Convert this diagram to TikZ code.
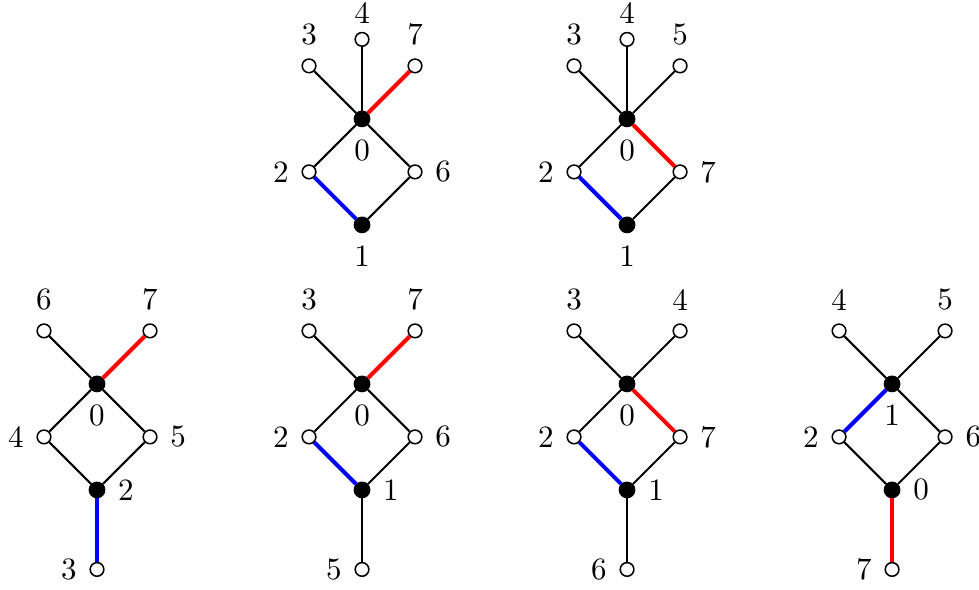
\documentclass[tikz,border=0pt]{standalone}
\usepackage{tikz}

\begin{document}
\begin{tikzpicture}[
  x=0.6cm, y=0.6cm,
  leaf/.style={circle, draw, fill=white, line width=0.5pt, minimum size=4.4pt, inner sep=0pt},
  hub/.style={circle, draw, fill=black, line width=0.5pt, minimum size=4.9pt, inner sep=0pt},
  edg/.style={line width=0.65pt},
  redg/.style={line width=1.3pt, red},
  bedg/.style={line width=1.3pt, blue},
  label distance=0.6pt
]
  \useasboundingbox (0,0) rectangle (18.47,11.13);
  \def\colsep{5}

  % ── Top row, left ──
  \begin{scope}[shift={(6.83,8.887)}]
    \node[hub, label=below:0] (a0) at (0,0) {};
    \node[hub, label=below:1] (a1) at (0,-2) {};
    \node[leaf, label=left:2] (a2) at (-1,-1) {};
    \node[leaf, label=right:6] (a6) at (1,-1) {};
    \node[leaf, label=above:3] (a3) at (-1,1) {};
    \node[leaf, label={[label distance=-0.8pt]above:4}] (a4) at (0,1.5) {};
    \node[leaf, label=above:7] (a7) at (1,1) {};
    \draw[edg] (a0) -- (a3);
    \draw[edg] (a0) -- (a4);
    \draw[redg] (a0) -- (a7);
    \draw[edg] (a0) -- (a2);
    \draw[edg] (a0) -- (a6);
    \draw[bedg] (a2) -- (a1);
    \draw[edg] (a6) -- (a1);
  \end{scope}

  % ── Top row, right ──
  \begin{scope}[shift={(6.83+\colsep,8.887)}]
    \node[hub, label=below:0] (b0) at (0,0) {};
    \node[hub, label=below:1] (b1) at (0,-2) {};
    \node[leaf, label=left:2] (b2) at (-1,-1) {};
    \node[leaf, label=right:7] (b7) at (1,-1) {};
    \node[leaf, label=above:3] (b3) at (-1,1) {};
    \node[leaf, label={[label distance=-0.8pt]above:4}] (b4) at (0,1.5) {};
    \node[leaf, label=above:5] (b5) at (1,1) {};
    \draw[edg] (b0) -- (b3);
    \draw[edg] (b0) -- (b4);
    \draw[edg] (b0) -- (b5);
    \draw[edg] (b0) -- (b2);
    \draw[redg] (b0) -- (b7);
    \draw[bedg] (b2) -- (b1);
    \draw[edg] (b7) -- (b1);
  \end{scope}

  % ── Bottom row, 1 ──
  \begin{scope}[shift={(1.83,3.887)}]
    \node[hub, label=below:0] (c0) at (0,0) {};
    \node[hub, label=right:2] (c2) at (0,-2) {};
    \node[leaf, label=left:4] (c4) at (-1,-1) {};
    \node[leaf, label=right:5] (c5) at (1,-1) {};
    \node[leaf, label=above:6] (c6) at (-1,1) {};
    \node[leaf, label=above:7] (c7) at (1,1) {};
    \node[leaf, label=left:3] (c3) at (0,-3.5) {};
    \draw[edg] (c0) -- (c6);
    \draw[redg] (c0) -- (c7);
    \draw[edg] (c0) -- (c4);
    \draw[edg] (c0) -- (c5);
    \draw[edg] (c4) -- (c2);
    \draw[edg] (c5) -- (c2);
    \draw[bedg] (c2) -- (c3);
  \end{scope}

  % ── Bottom row, 2 ──
  \begin{scope}[shift={(1.83+\colsep,3.887)}]
    \node[hub, label=below:0] (d0) at (0,0) {};
    \node[hub, label=right:1] (d1) at (0,-2) {};
    \node[leaf, label=left:2] (d2) at (-1,-1) {};
    \node[leaf, label=right:6] (d6) at (1,-1) {};
    \node[leaf, label=above:3] (d3) at (-1,1) {};
    \node[leaf, label=above:7] (d7) at (1,1) {};
    \node[leaf, label=left:5] (d5) at (0,-3.5) {};
    \draw[edg] (d0) -- (d3);
    \draw[redg] (d0) -- (d7);
    \draw[edg] (d0) -- (d2);
    \draw[edg] (d0) -- (d6);
    \draw[bedg] (d2) -- (d1);
    \draw[edg] (d6) -- (d1);
    \draw[edg] (d1) -- (d5);
  \end{scope}

  % ── Bottom row, 3 ──
  \begin{scope}[shift={(1.83+2*\colsep,3.887)}]
    \node[hub, label=below:0] (e0) at (0,0) {};
    \node[hub, label=right:1] (e1) at (0,-2) {};
    \node[leaf, label=left:2] (e2) at (-1,-1) {};
    \node[leaf, label=right:7] (e7) at (1,-1) {};
    \node[leaf, label=above:3] (e3) at (-1,1) {};
    \node[leaf, label=above:4] (e4) at (1,1) {};
    \node[leaf, label=left:6] (e6) at (0,-3.5) {};
    \draw[edg] (e0) -- (e3);
    \draw[edg] (e0) -- (e4);
    \draw[edg] (e0) -- (e2);
    \draw[redg] (e0) -- (e7);
    \draw[bedg] (e2) -- (e1);
    \draw[edg] (e7) -- (e1);
    \draw[edg] (e1) -- (e6);
  \end{scope}

  % ── Bottom row, 4 ──
  \begin{scope}[shift={(1.83+3*\colsep,3.887)}]
    \node[hub, label=below:1] (f1) at (0,0) {};
    \node[hub, label=right:0] (f0) at (0,-2) {};
    \node[leaf, label=left:2] (f2) at (-1,-1) {};
    \node[leaf, label=right:6] (f6) at (1,-1) {};
    \node[leaf, label=above:4] (f4) at (-1,1) {};
    \node[leaf, label=above:5] (f5) at (1,1) {};
    \node[leaf, label=left:7] (f7) at (0,-3.5) {};
    \draw[edg] (f1) -- (f4);
    \draw[edg] (f1) -- (f5);
    \draw[bedg] (f1) -- (f2);
    \draw[edg] (f1) -- (f6);
    \draw[edg] (f2) -- (f0);
    \draw[edg] (f6) -- (f0);
    \draw[redg] (f0) -- (f7);
  \end{scope}

\end{tikzpicture}
\end{document}
